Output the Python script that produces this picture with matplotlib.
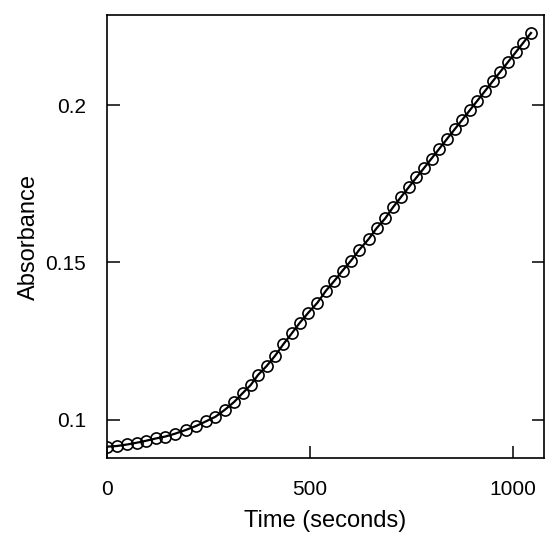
import numpy as np
import matplotlib
matplotlib.use('Agg')
import matplotlib.pyplot as plt

plt.rcParams['font.family'] = ['Liberation Sans', 'DejaVu Sans']

# time (s)
time_s = [0, 24, 50, 75, 97, 120, 143, 167, 194, 220,
          243, 267, 290, 313, 334, 354, 372, 393, 414, 434,
          455, 475, 496, 518, 539, 560, 580, 601, 621, 644,
          664, 685, 704, 724, 743, 762, 780, 799, 818, 837,
          856, 874, 893, 912, 931, 950, 968, 987, 1006, 1025,
          1044]

absorbance = [0.0915, 0.0917, 0.0922, 0.0928, 0.0934, 0.0941, 0.0947, 0.0956, 0.0968, 0.0981,
              0.0995, 0.1010, 0.1032, 0.1057, 0.1085, 0.1111, 0.1143, 0.1171, 0.1204, 0.1240,
              0.1275, 0.1309, 0.1341, 0.1372, 0.1410, 0.1442, 0.1474, 0.1506, 0.1540, 0.1574,
              0.1609, 0.1640, 0.1675, 0.1708, 0.1739, 0.1770, 0.1799, 0.1830, 0.1861, 0.1892,
              0.1923, 0.1952, 0.1983, 0.2014, 0.2045, 0.2076, 0.2105, 0.2136, 0.2167, 0.2198,
              0.2229]

x_ticks = [0, 500, 1000]
y_ticks = [0.1, 0.15, 0.2]
y_tick_labels = ['0.1', '0.15', '0.2']

fig = plt.figure(figsize=(5.45, 5.37), dpi=100)
ax = fig.add_axes([107 / 545, 1 - 458 / 537, 437 / 545, 443 / 537])

ax.plot(time_s, absorbance, color='black', linewidth=1.6,
        marker='o', markersize=8.0, markerfacecolor='none',
        markeredgecolor='black', markeredgewidth=1.2)

ax.set_xlim(0, 1076)
ax.set_ylim(0.0879, 0.2286)
ax.set_xticks(x_ticks)
ax.set_xticklabels([str(t) for t in x_ticks])
ax.set_yticks(y_ticks)
ax.set_yticklabels(y_tick_labels)

ax.tick_params(direction='in', length=9, width=1.1, labelsize=15,
               top=False, right=True, pad=15)
ax.tick_params(axis='x', pad=16)
for s in ax.spines.values():
    s.set_linewidth(1.2)

ax.set_xlabel('Time (seconds)', fontsize=17, labelpad=8)
ax.set_ylabel('Absorbance', fontsize=17, labelpad=4)

fig.savefig('out.png', dpi=100)
